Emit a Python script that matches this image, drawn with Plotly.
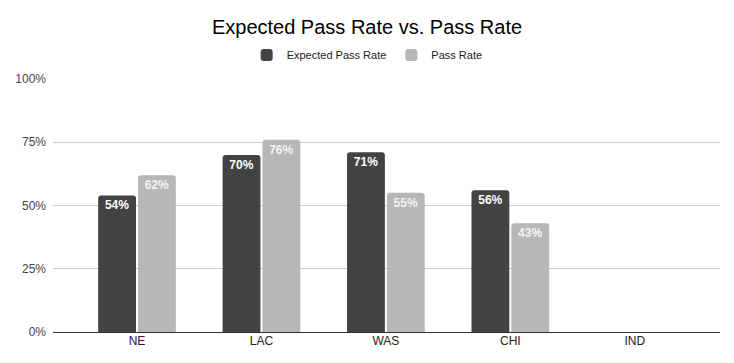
import plotly.graph_objects as go

teams = ["NE", "LAC", "WAS", "CHI", "IND"]
expected_pass_rate = [54, 70, 71, 56, None]
pass_rate = [62, 76, 55, 43, None]
y_ticks = [0, 25, 50, 75, 100]
y_tick_labels = ["0%", "25%", "50%", "75%", "100%"]

def labels(vals):
    return [f"<b>{v}%</b>" if v is not None else "" for v in vals]

fig = go.Figure()
fig.add_trace(go.Bar(
    x=teams, y=expected_pass_rate, name="Expected Pass Rate",
    marker=dict(color="#434343", line=dict(width=0)),
    text=labels(expected_pass_rate), textposition="inside", insidetextanchor="end",
    textfont=dict(family="Arial", size=12, color="#ffffff"),
    textangle=0,
))
fig.add_trace(go.Bar(
    x=teams, y=pass_rate, name="Pass Rate",
    marker=dict(color="#b7b7b7", line=dict(width=0)),
    text=labels(pass_rate), textposition="inside", insidetextanchor="end",
    textfont=dict(family="Arial", size=12, color="#f3f3f3"),
    textangle=0,
))

fig.update_layout(
    width=734, height=363,
    margin=dict(l=53, r=14, t=79, b=31, autoexpand=False),
    paper_bgcolor="white", plot_bgcolor="white",
    title=dict(text="Expected Pass Rate vs. Pass Rate", x=0.5, xanchor="center",
               y=0.925, yanchor="middle",
               font=dict(family="Arial", size=20, color="#000000")),
    legend=dict(orientation="h",
                x=0.471, xanchor="center", y=1.095, yanchor="middle",
                font=dict(family="Arial", size=11, color="#222222"),
                traceorder="normal"),
    barmode="group", bargap=0.36, bargroupgap=0.05, barcornerradius=3,
    uniformtext=dict(mode="show", minsize=8),
    font=dict(family="Arial"),
)
fig.update_xaxes(
    type="category", range=[-0.675, 4.685], showgrid=False,
    tickfont=dict(family="Arial", size=12, color="#222222"),
    ticks="", showline=False, automargin=False,
)
fig.update_yaxes(
    range=[0, 100], tickvals=y_ticks, ticktext=y_tick_labels,
    showgrid=True, gridcolor="#cccccc", gridwidth=1,
    zeroline=True, zerolinecolor="#333333", zerolinewidth=1,
    tickfont=dict(family="Arial", size=12, color="#444444"),
    ticks="", ticklabelstandoff=6, automargin=False,
)

fig.write_html("out.html", config={"displayModeBar": False},
               post_script="document.body.style.margin='0';")
